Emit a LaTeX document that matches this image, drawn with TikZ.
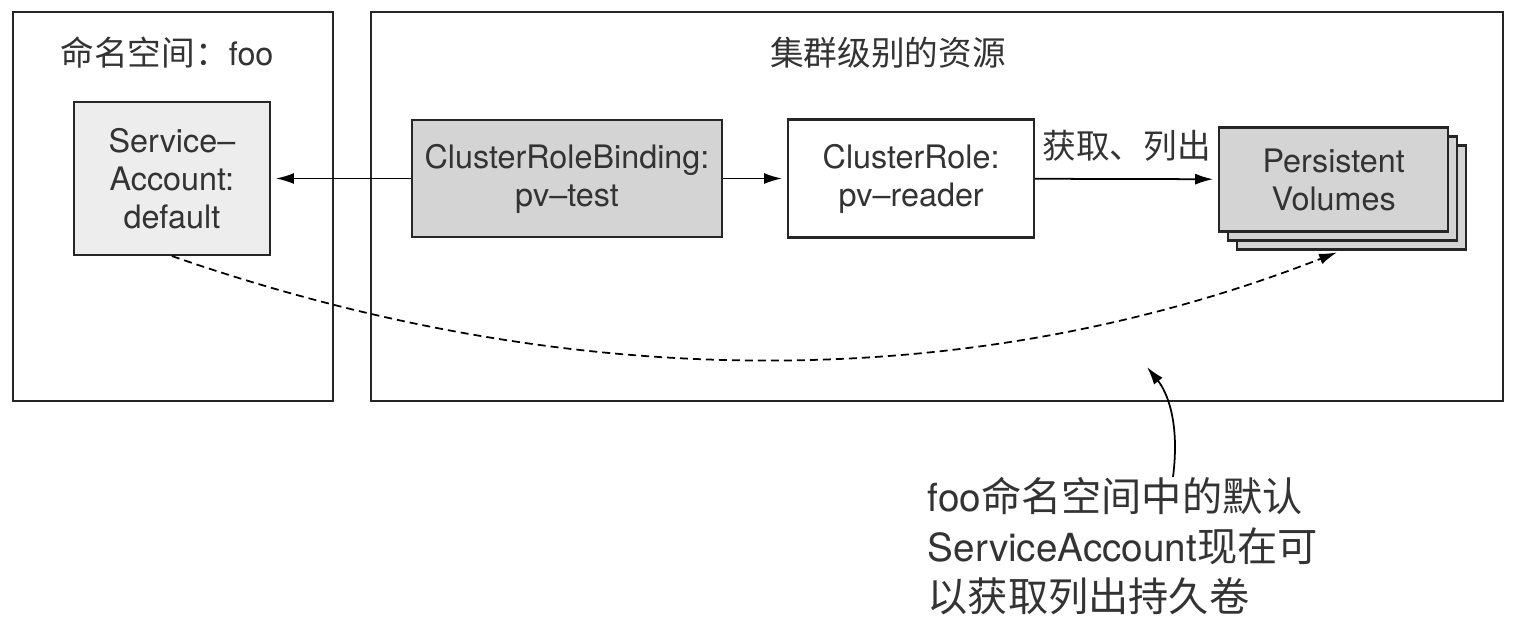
\documentclass[tikz,border=0pt]{standalone}
\usepackage{fontspec}
\setmainfont{TeX Gyre Heros}
\newfontfamily\cjk[Scale=1.04]{Noto Sans CJK SC}
\usetikzlibrary{positioning,calc,arrows.meta}

\begin{document}
\begin{tikzpicture}[every node/.style={text=black!80},
        frame/.style={draw=black!85,line width=0.6pt,minimum height=3.89cm,inner sep=0pt},
        box/.style={draw=black!85,line width=0.6pt,align=center,inner sep=0pt,font=\fontsize{9.2}{10.8}\selectfont},
        title/.style={inner sep=0pt,font=\fontsize{9.2}{10.8}\selectfont},
        link/.style={line width=0.5pt,-{Latex[length=1.8mm,width=1.1mm]},shorten >=0.5mm},
        pvbox/.style={box,fill=black!17,minimum width=2.29cm,minimum height=1.04cm}]
        \useasboundingbox (0,0) rectangle (15.16,-6.30);
        \node[frame,minimum width=3.20cm] (ns) at (1.73,-2.065) {};
        \node[frame,minimum width=11.32cm] (cl) at (9.37,-2.065) {};
        \node[title,anchor=base west] (nstitle) at (0.60,-0.66) {{\cjk 命名空间：}foo};
        \node[title,anchor=base] (cltitle) at (8.88,-0.66) {\cjk 集群级别的资源};

        \node[box,fill=black!17,minimum width=3.10cm,minimum height=1.17cm] (crb) at (5.67,-1.785) {ClusterRoleBinding:\\pv–test};
        \node[box,fill=black!7,minimum width=1.96cm,minimum height=1.53cm] (sa) [left=1.40cm of crb] {Service–\\Account:\\default};
        \node[box,fill=white,minimum width=2.46cm,minimum height=1.18cm] (cr) [right=0.64cm of crb] {ClusterRole:\\pv–reader};
        \node[pvbox] (pv3) [right=2.01cm of cr,yshift=-0.19cm] {};
        \node[pvbox] (pv2) at ([shift={(-0.09,0.09)}]pv3) {};
        \node[pvbox] (pv) at ([shift={(-0.09,0.09)}]pv2) {Persistent\\Volumes};

        \draw[link] (crb) -- (sa);
        \draw[link] (crb) -- (cr);
        \draw[link] (cr) -- node[title,above=4.8pt] (verbs) {\cjk 获取、列出} (pv);
        \draw[link,dash pattern=on 0.8mm off 0.5mm] (sa.south) .. controls (5.71,-3.95) and (9.71,-3.95) .. ([xshift=-1mm]pv3.south);

        \node[anchor=base west,align=left,inner sep=0pt,font=\fontsize{11}{14.1}\selectfont] (note) at (9.27,-6.11)
            {foo{\cjk 命名空间中的默认}\\ServiceAccount{\cjk 现在可}\\{\cjk 以获取列出持久卷}};
        \coordinate (head) at (11.47,-3.67);
        \draw[link,shorten >=0pt] ([xshift=2.46cm]note.north west) .. controls +(0.07,0.55) and +(0.2,-0.25) .. (head);
    \end{tikzpicture}
\end{document}
